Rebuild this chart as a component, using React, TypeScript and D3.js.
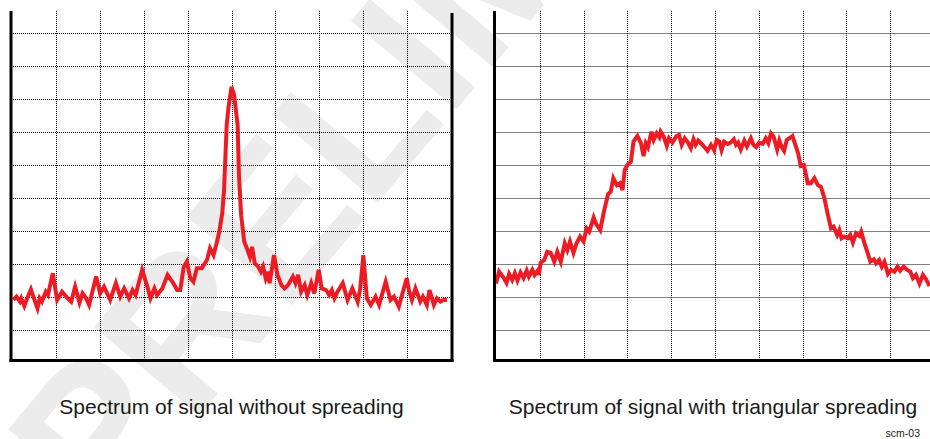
import React from 'react';
import * as d3 from 'd3';

// ---- data (x in grid divisions, y in grid divisions) ----
const leftX = [0.02,0.09,0.17,0.20,0.27,0.32,0.42,0.49,0.57,0.62,0.67,0.76,0.81,0.92,1.02,1.13,1.26,1.34,1.43,1.53,1.60,1.68,1.75,1.91,2.00,2.09,2.23,2.36,2.46,2.55,2.66,2.74,2.81,2.96,3.08,3.15,3.24,3.30,3.42,3.54,3.67,3.76,3.83,3.91,3.98,4.06,4.13,4.21,4.32,4.44,4.51,4.59,4.66,4.72,4.79,4.83,4.89,4.93,5.00,5.06,5.14,5.17,5.22,5.29,5.35,5.42,5.47,5.53,5.61,5.67,5.72,5.78,5.83,5.87,5.97,6.05,6.14,6.21,6.29,6.40,6.46,6.52,6.59,6.67,6.73,6.82,6.89,6.99,7.06,7.16,7.23,7.29,7.35,7.42,7.54,7.65,7.76,7.88,7.94,8.01,8.09,8.18,8.29,8.37,8.52,8.63,8.71,8.82,9.00,9.05,9.12,9.20,9.31,9.37,9.46,9.52,9.62,9.69,9.77,9.84,9.92];
const leftY = [1.91,2.01,1.86,1.96,1.73,1.91,2.23,1.96,1.66,1.96,1.86,2.16,2.06,2.72,1.91,2.16,1.96,1.86,2.31,1.83,2.11,1.96,1.76,2.62,2.11,2.31,1.91,2.42,2.01,2.26,1.96,2.21,2.06,2.82,2.31,1.96,2.26,2.06,2.26,2.67,2.42,2.21,2.21,2.92,3.07,2.57,2.46,2.87,2.87,3.12,3.48,3.27,3.63,3.97,4.55,5.24,7.21,7.73,8.37,8.12,7.21,5.70,4.48,3.68,3.48,3.22,3.52,3.02,2.92,2.77,2.92,2.57,2.77,2.42,3.27,2.67,2.36,2.26,2.36,2.62,2.42,2.67,2.16,2.36,2.06,2.42,2.11,2.82,2.26,2.21,2.06,2.21,1.96,2.16,2.42,1.91,2.26,1.86,2.26,3.27,1.96,1.76,2.01,1.76,2.46,1.91,2.01,1.71,2.57,2.21,1.91,2.26,1.86,2.01,1.76,2.21,1.76,1.96,1.86,1.91,1.91];

const rightX = [0.00,0.07,0.18,0.24,0.30,0.37,0.43,0.49,0.56,0.63,0.70,0.75,0.83,0.88,0.95,0.98,1.02,1.10,1.17,1.25,1.33,1.40,1.48,1.57,1.63,1.69,1.77,1.84,1.92,2.00,2.07,2.13,2.23,2.28,2.38,2.47,2.56,2.62,2.68,2.76,2.83,2.89,2.94,3.00,3.08,3.14,3.23,3.31,3.37,3.42,3.47,3.55,3.60,3.67,3.73,3.76,3.83,3.90,3.95,4.03,4.11,4.18,4.24,4.31,4.37,4.45,4.51,4.56,4.62,4.68,4.75,4.83,4.91,4.98,5.04,5.10,5.15,5.21,5.29,5.36,5.43,5.48,5.53,5.59,5.67,5.73,5.82,5.88,5.94,6.01,6.09,6.16,6.22,6.28,6.34,6.42,6.47,6.52,6.58,6.64,6.70,6.77,6.85,6.90,6.96,7.03,7.12,7.19,7.27,7.35,7.42,7.50,7.57,7.65,7.71,7.79,7.84,7.89,7.95,8.03,8.09,8.15,8.22,8.30,8.34,8.41,8.49,8.55,8.63,8.68,8.75,8.81,8.87,8.95,9.02,9.10,9.17,9.23,9.31,9.39,9.46,9.52,9.59,9.67,9.75,9.82,9.90];
const rightY = [2.41,2.77,2.57,2.43,2.70,2.52,2.72,2.50,2.74,2.57,2.80,2.62,2.82,2.67,2.80,2.67,3.04,3.12,3.37,3.34,3.07,3.37,3.07,3.63,3.42,3.68,3.34,3.63,3.83,3.68,4.08,3.98,4.41,4.23,4.03,4.62,5.12,5.19,5.60,5.39,5.45,5.24,5.85,6.00,6.10,6.71,6.88,6.66,6.27,6.66,6.54,7.01,6.76,6.96,6.84,7.01,6.86,6.58,6.81,6.68,6.86,6.91,6.61,6.81,6.71,6.51,6.78,6.61,6.74,6.66,6.56,6.43,6.61,6.45,6.76,6.71,6.45,6.71,6.64,6.68,6.78,6.61,6.68,6.47,6.74,6.56,6.81,6.61,6.54,6.68,6.64,6.81,6.66,6.96,6.86,6.47,6.74,6.56,6.43,6.76,6.81,6.88,6.56,6.35,5.97,6.00,5.45,5.45,5.60,5.39,5.34,4.99,4.54,4.08,4.13,3.88,4.03,3.78,3.83,3.78,3.88,3.65,3.93,3.85,3.98,3.65,3.32,3.07,3.14,3.02,3.12,2.92,3.07,2.70,2.82,2.77,2.92,2.80,2.92,2.82,2.77,2.57,2.67,2.41,2.67,2.54,2.33];

const gridX = [1, 2, 3, 4, 5, 6, 7, 8, 9];
const gridY = [1, 2, 3, 4, 5, 6, 7, 8, 9, 10];
const titles = ['Spectrum of signal without spreading', 'Spectrum of signal with triangular spreading'];
const figureId = 'scm-03';
const watermark = 'PRELIMINARY';

// ---- layout ----
const W = 930;
const H = 439;
const TOP = 11;
const BOTTOM = 360.5;
const RED = '#ed1c24';

const yScale = d3.scaleLinear().domain([0, 10]).range([363, 33]);

type PanelProps = {
  xs: number[];
  ys: number[];
  x0: number;
  x1: number;
  rightAxis: boolean;
  clipRight: number;
  title: string;
};

function Panel({ xs, ys, x0, x1, rightAxis, clipRight, title }: PanelProps) {
  const xScale = d3.scaleLinear().domain([0, 10]).range([x0, x1]);
  const pts: [number, number][] = xs.map((x, i) => [x, ys[i]]);
  const line = d3
    .line<[number, number]>()
    .x((d) => xScale(d[0]))
    .y((d) => yScale(d[1]));
  const left = x0 - 1.5;
  const right = rightAxis ? x1 + 1.5 : clipRight;
  return (
    <g>
      {gridX.map((g) => {
        const x = Math.round(xScale(g)) + 0.5;
        return (
          <line key={'vx' + g} x1={x} x2={x} y1={TOP} y2={BOTTOM} stroke="#000" strokeWidth={1} strokeDasharray="1 1" />
        );
      })}
      {gridY.map((g) => {
        const y = Math.round(yScale(g)) + 0.5;
        return (
          <line key={'hy' + g} x1={left} x2={right} y1={y} y2={y} stroke="#000" strokeWidth={1} strokeDasharray="1 1" />
        );
      })}
      <path d={line(pts) || ''} fill="none" stroke={RED} strokeWidth={4} strokeLinejoin="miter" strokeMiterlimit={4} />
      <line x1={left} x2={left} y1={TOP} y2={BOTTOM + 1.5} stroke="#000" strokeWidth={3} />
      {rightAxis && <line x1={right} x2={right} y1={TOP + 2} y2={BOTTOM + 1.5} stroke="#000" strokeWidth={3} />}
      <line x1={left - 1.5} x2={right + (rightAxis ? 1.5 : 0)} y1={BOTTOM} y2={BOTTOM} stroke="#000" strokeWidth={3} />
      <text
        x={(x0 + (rightAxis ? x1 : clipRight)) / 2}
        y={414}
        textAnchor="middle"
        fontFamily="'Liberation Sans', Arial, sans-serif"
        fontSize={21}
        fill="#1a1a1a"
      >
        {title}
      </text>
    </g>
  );
}

export default function App() {
  return (
    <svg
      width={W}
      height={H}
      viewBox={`0 0 ${W} ${H}`}
      style={{ position: 'absolute', left: 0, top: 0, background: '#fff' }}
    >
      <rect x={0} y={0} width={W} height={H} fill="#fff" />
      <text
        transform="translate(105,528) rotate(-50)"
        fontFamily="'Liberation Sans', Arial, sans-serif"
        fontWeight="bold"
        fontSize={200}
        fill="#ececec"
      >
        {watermark}
      </text>
      <Panel xs={leftX} ys={leftY} x0={12.5} x1={450.5} rightAxis={true} clipRight={452} title={titles[0]} />
      <Panel xs={rightX} ys={rightY} x0={496} x1={933.9} rightAxis={false} clipRight={930} title={titles[1]} />
      <text
        x={920}
        y={437}
        textAnchor="end"
        fontFamily="'Liberation Sans', Arial, sans-serif"
        fontSize={10.5}
        fill="#1a1a1a"
      >
        {figureId}
      </text>
    </svg>
  );
}
